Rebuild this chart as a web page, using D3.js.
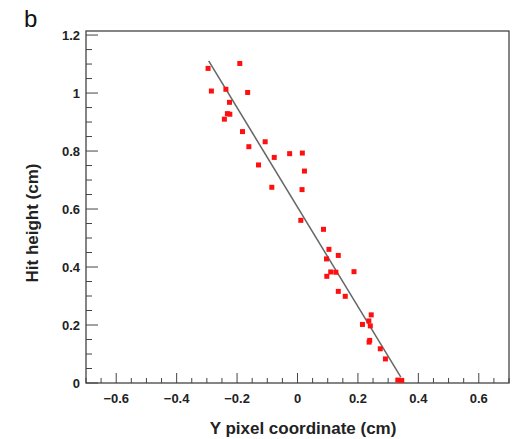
<!DOCTYPE html>
<html>
<head>
<meta charset="utf-8">
<script src="https://cdn.jsdelivr.net/npm/d3@7"></script>
<style>
  body { margin: 0; background: #fff; }
  svg { font-family: "Liberation Sans", Arial, sans-serif; }
</style>
</head>
<body>
<div id="container"></div>
<script>
/* DATA */
// hit positions: Y pixel coordinate (cm) and hit height (cm)
const xVals = [-0.296, -0.191, -0.285, -0.237, -0.165, -0.225, -0.232, -0.224, -0.242, -0.182,
  -0.107, -0.161, -0.077, -0.026, 0.016, -0.129, 0.023, -0.085, 0.015,
  0.011, 0.086, 0.104, 0.135, 0.096, 0.110, 0.127, 0.187, 0.097, 0.135, 0.158,
  0.244, 0.236, 0.215, 0.241, 0.239, 0.237, 0.274, 0.291, 0.332, 0.345];
const yVals = [1.085, 1.102, 1.007, 1.013, 1.002, 0.968, 0.929, 0.927, 0.910, 0.867,
  0.832, 0.815, 0.778, 0.791, 0.793, 0.752, 0.731, 0.675, 0.667,
  0.561, 0.530, 0.461, 0.440, 0.428, 0.383, 0.382, 0.384, 0.368, 0.316, 0.299,
  0.235, 0.214, 0.202, 0.197, 0.147, 0.141, 0.118, 0.083, 0.010, 0.009];
// linear fit end points
const fitX = [-0.294, 0.342];
const fitY = [1.111, 0.020];

const xTicks = [-0.6, -0.4, -0.2, 0, 0.2, 0.4, 0.6];
const yTicks = [0, 0.2, 0.4, 0.6, 0.8, 1, 1.2];

/* CONSTANTS */
const width = 531, height = 439;
const margin = {top: 31, right: 22, bottom: 56, left: 86};

const svg = d3.select("#container").append("svg")
  .attr("width", width).attr("height", height);

const xScale = d3.scaleLinear().domain([-0.7, 0.7])
  .range([margin.left, width - margin.right]);
const yScale = d3.scaleLinear().domain([0, 1.214])
  .range([height - margin.bottom, margin.top]);

// frame
svg.append("rect")
  .attr("x", margin.left).attr("y", margin.top)
  .attr("width", xScale(0.7) - xScale(-0.7))
  .attr("height", yScale(0) - yScale(1.214))
  .attr("fill", "none").attr("stroke", "#444").attr("stroke-width", 1.3);

// minor ticks every 0.05
const xMinor = d3.range(-0.7, 0.7001, 0.05).map(d => +d.toFixed(2));
const yMinor = d3.range(0, 1.2001, 0.05).map(d => +d.toFixed(2));

svg.append("g").selectAll("line").data(xMinor).join("line")
  .attr("x1", d => xScale(d)).attr("x2", d => xScale(d))
  .attr("y1", yScale(0)).attr("y2", d => yScale(0) - (xTicks.some(t => Math.abs(t - d) < 1e-6) ? 10 : 5))
  .attr("stroke", "#444").attr("stroke-width", 1);

svg.append("g").selectAll("line").data(yMinor).join("line")
  .attr("y1", d => yScale(d)).attr("y2", d => yScale(d))
  .attr("x1", xScale(-0.7)).attr("x2", d => xScale(-0.7) + (yTicks.some(t => Math.abs(t - d) < 1e-6) ? 12 : 6))
  .attr("stroke", "#444").attr("stroke-width", 1);

// tick labels
svg.append("g").selectAll("text").data(xTicks).join("text")
  .attr("x", d => xScale(d)).attr("y", yScale(0) + 20)
  .attr("text-anchor", "middle")
  .attr("font-size", 13).attr("font-weight", "bold").attr("fill", "#222")
  .text(d => d3.format("")(d));

svg.append("g").selectAll("text").data(yTicks).join("text")
  .attr("x", xScale(-0.7) - 6).attr("y", d => yScale(d) + 5)
  .attr("text-anchor", "end")
  .attr("font-size", 13).attr("font-weight", "bold").attr("fill", "#222")
  .text(d => d3.format("")(d));

// axis titles
svg.append("text")
  .attr("x", 303).attr("y", 434)
  .attr("text-anchor", "middle")
  .attr("font-size", 17).attr("font-weight", "bold").attr("fill", "#222")
  .text("Y pixel coordinate (cm)");

svg.append("text")
  .attr("transform", "translate(38,223) rotate(-90)")
  .attr("text-anchor", "middle")
  .attr("font-size", 17).attr("font-weight", "bold").attr("fill", "#222")
  .text("Hit height (cm)");

// panel label
svg.append("text")
  .attr("x", 24).attr("y", 27)
  .attr("font-size", 24).attr("fill", "#111")
  .text("b");

// fit line
svg.append("line")
  .attr("x1", xScale(fitX[0])).attr("y1", yScale(fitY[0]))
  .attr("x2", xScale(fitX[1])).attr("y2", yScale(fitY[1]))
  .attr("stroke", "#666").attr("stroke-width", 1.5);

// points
const pts = xVals.map((x, i) => ({x: x, y: yVals[i]}));
svg.append("g").selectAll("rect").data(pts).join("rect")
  .attr("x", d => xScale(d.x) - 2.5).attr("y", d => yScale(d.y) - 2.5)
  .attr("width", 5).attr("height", 5)
  .attr("fill", "#ff1010");
</script>
</body>
</html>
